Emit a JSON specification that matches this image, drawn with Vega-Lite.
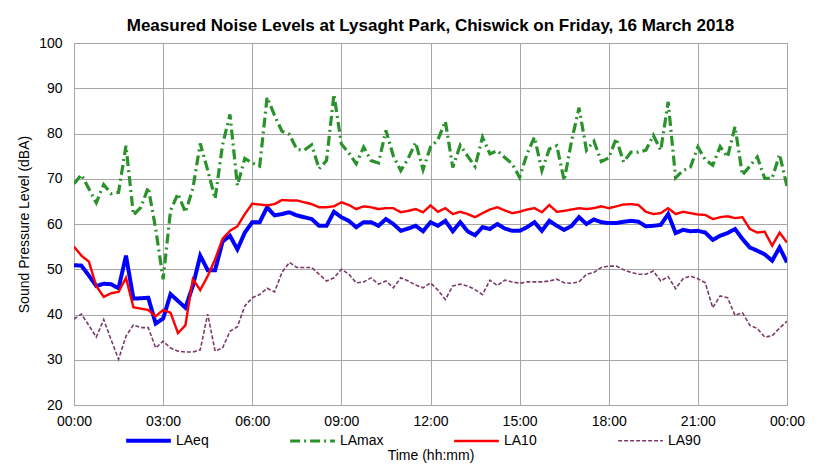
{
  "$schema": "https://vega.github.io/schema/vega-lite/v6.json",
  "width": 713,
  "height": 362,
  "autosize": {"type": "none"},
  "padding": {"left": 74, "top": 43, "right": 48, "bottom": 63},
  "background": "white",
  "config": {
    "font": "Liberation Sans",
    "view": {"stroke": "#a6a6a6", "strokeWidth": 1}
  },
  "title": {
    "text": "Measured Noise Levels at Lysaght Park, Chiswick on Friday, 16 March 2018",
    "fontSize": 17,
    "fontWeight": "bold",
    "color": "#000000",
    "anchor": "middle",
    "offset": 1
  },
  "data": {
    "values": [
      {"h": 0, "LAeq": 50.9, "LAmax": 68.9, "LA10": 55.0, "LA90": 39.0},
      {"h": 0.25, "LAeq": 50.8, "LAmax": 70.9, "LA10": 53.0, "LA90": 40.1},
      {"h": 0.5, "LAeq": 48.6, "LAmax": 67.8, "LA10": 51.7, "LA90": 37.6},
      {"h": 0.75, "LAeq": 46.3, "LAmax": 64.7, "LA10": 46.3, "LA90": 35.0},
      {"h": 1, "LAeq": 46.8, "LAmax": 68.7, "LA10": 43.9, "LA90": 38.9},
      {"h": 1.25, "LAeq": 46.7, "LAmax": 66.7, "LA10": 44.7, "LA90": 34.4},
      {"h": 1.5, "LAeq": 45.8, "LAmax": 67.0, "LA10": 45.0, "LA90": 30.1},
      {"h": 1.75, "LAeq": 53.0, "LAmax": 77.3, "LA10": 48.1, "LA90": 35.2},
      {"h": 2, "LAeq": 43.5, "LAmax": 62.0, "LA10": 41.6, "LA90": 37.7},
      {"h": 2.25, "LAeq": 43.6, "LAmax": 63.7, "LA10": 41.3, "LA90": 37.1},
      {"h": 2.5, "LAeq": 43.7, "LAmax": 68.1, "LA10": 41.0, "LA90": 37.1},
      {"h": 2.75, "LAeq": 38.0, "LAmax": 58.9, "LA10": 39.6, "LA90": 32.6},
      {"h": 3, "LAeq": 39.1, "LAmax": 47.8, "LA10": 41.0, "LA90": 34.1},
      {"h": 3.25, "LAeq": 44.5, "LAmax": 63.0, "LA10": 40.4, "LA90": 32.6},
      {"h": 3.5, "LAeq": 43.0, "LAmax": 66.7, "LA10": 35.9, "LA90": 31.9},
      {"h": 3.75, "LAeq": 41.5, "LAmax": 62.6, "LA10": 37.6, "LA90": 31.7},
      {"h": 4, "LAeq": 46.3, "LAmax": 67.8, "LA10": 47.8, "LA90": 31.7},
      {"h": 4.25, "LAeq": 53.0, "LAmax": 77.8, "LA10": 45.4, "LA90": 32.2},
      {"h": 4.5, "LAeq": 49.8, "LAmax": 71.9, "LA10": 48.5, "LA90": 40.1},
      {"h": 4.75, "LAeq": 49.8, "LAmax": 65.6, "LA10": 52.2, "LA90": 31.9},
      {"h": 5, "LAeq": 56.1, "LAmax": 77.5, "LA10": 56.7, "LA90": 32.6},
      {"h": 5.25, "LAeq": 57.4, "LAmax": 84.2, "LA10": 58.5, "LA90": 36.3},
      {"h": 5.5, "LAeq": 54.4, "LAmax": 68.5, "LA10": 59.5, "LA90": 37.3},
      {"h": 5.75, "LAeq": 58.1, "LAmax": 74.5, "LA10": 62.2, "LA90": 41.9},
      {"h": 6, "LAeq": 60.4, "LAmax": 73.5, "LA10": 64.5, "LA90": 43.7},
      {"h": 6.25, "LAeq": 60.4, "LAmax": 72.8, "LA10": 64.3, "LA90": 44.4},
      {"h": 6.5, "LAeq": 63.7, "LAmax": 88.0, "LA10": 64.1, "LA90": 45.8},
      {"h": 6.75, "LAeq": 61.9, "LAmax": 84.0, "LA10": 64.4, "LA90": 45.0},
      {"h": 7, "LAeq": 62.2, "LAmax": 80.5, "LA10": 65.3, "LA90": 49.3},
      {"h": 7.25, "LAeq": 62.6, "LAmax": 79.8, "LA10": 65.2, "LA90": 51.5},
      {"h": 7.5, "LAeq": 61.9, "LAmax": 76.5, "LA10": 65.2, "LA90": 50.4},
      {"h": 7.75, "LAeq": 61.5, "LAmax": 76.3, "LA10": 64.8, "LA90": 50.4},
      {"h": 8, "LAeq": 61.1, "LAmax": 77.5, "LA10": 64.4, "LA90": 50.4},
      {"h": 8.25, "LAeq": 59.6, "LAmax": 72.2, "LA10": 63.7, "LA90": 48.9},
      {"h": 8.5, "LAeq": 59.6, "LAmax": 74.0, "LA10": 63.7, "LA90": 47.4},
      {"h": 8.75, "LAeq": 62.7, "LAmax": 88.7, "LA10": 63.9, "LA90": 48.1},
      {"h": 9, "LAeq": 61.5, "LAmax": 77.7, "LA10": 64.8, "LA90": 50.0},
      {"h": 9.25, "LAeq": 60.7, "LAmax": 75.7, "LA10": 64.2, "LA90": 48.9},
      {"h": 9.5, "LAeq": 59.3, "LAmax": 73.3, "LA10": 63.3, "LA90": 47.0},
      {"h": 9.75, "LAeq": 60.4, "LAmax": 77.0, "LA10": 63.9, "LA90": 47.2},
      {"h": 10, "LAeq": 60.4, "LAmax": 74.0, "LA10": 63.7, "LA90": 48.1},
      {"h": 10.25, "LAeq": 59.6, "LAmax": 73.5, "LA10": 63.3, "LA90": 46.7},
      {"h": 10.5, "LAeq": 61.1, "LAmax": 80.7, "LA10": 63.5, "LA90": 47.4},
      {"h": 10.75, "LAeq": 60.0, "LAmax": 75.0, "LA10": 63.5, "LA90": 45.9},
      {"h": 11, "LAeq": 58.5, "LAmax": 71.8, "LA10": 62.6, "LA90": 48.1},
      {"h": 11.25, "LAeq": 59.0, "LAmax": 74.5, "LA10": 62.9, "LA90": 47.4},
      {"h": 11.5, "LAeq": 59.6, "LAmax": 78.0, "LA10": 63.3, "LA90": 46.5},
      {"h": 11.75, "LAeq": 58.4, "LAmax": 72.0, "LA10": 62.6, "LA90": 45.9},
      {"h": 12, "LAeq": 60.4, "LAmax": 77.0, "LA10": 64.1, "LA90": 47.0},
      {"h": 12.25, "LAeq": 59.6, "LAmax": 78.6, "LA10": 62.7, "LA90": 45.4},
      {"h": 12.5, "LAeq": 60.7, "LAmax": 82.7, "LA10": 63.5, "LA90": 43.3},
      {"h": 12.75, "LAeq": 58.4, "LAmax": 72.5, "LA10": 62.2, "LA90": 46.3},
      {"h": 13, "LAeq": 60.4, "LAmax": 77.4, "LA10": 62.7, "LA90": 46.7},
      {"h": 13.25, "LAeq": 58.4, "LAmax": 75.0, "LA10": 62.2, "LA90": 46.3},
      {"h": 13.5, "LAeq": 57.5, "LAmax": 72.7, "LA10": 61.5, "LA90": 45.5},
      {"h": 13.75, "LAeq": 59.3, "LAmax": 79.2, "LA10": 62.4, "LA90": 44.4},
      {"h": 14, "LAeq": 58.9, "LAmax": 75.5, "LA10": 63.2, "LA90": 47.6},
      {"h": 14.25, "LAeq": 60.0, "LAmax": 76.2, "LA10": 63.7, "LA90": 46.4},
      {"h": 14.5, "LAeq": 59.0, "LAmax": 74.7, "LA10": 63.0, "LA90": 47.6},
      {"h": 14.75, "LAeq": 58.5, "LAmax": 73.3, "LA10": 62.4, "LA90": 47.2},
      {"h": 15, "LAeq": 58.5, "LAmax": 70.3, "LA10": 62.7, "LA90": 46.9},
      {"h": 15.25, "LAeq": 59.3, "LAmax": 75.5, "LA10": 63.2, "LA90": 47.2},
      {"h": 15.5, "LAeq": 60.4, "LAmax": 79.2, "LA10": 63.5, "LA90": 47.2},
      {"h": 15.75, "LAeq": 58.5, "LAmax": 71.8, "LA10": 62.6, "LA90": 47.2},
      {"h": 16, "LAeq": 60.7, "LAmax": 76.6, "LA10": 64.2, "LA90": 47.4},
      {"h": 16.25, "LAeq": 59.6, "LAmax": 77.3, "LA10": 62.7, "LA90": 47.8},
      {"h": 16.5, "LAeq": 58.7, "LAmax": 69.6, "LA10": 62.9, "LA90": 47.0},
      {"h": 16.75, "LAeq": 59.6, "LAmax": 78.4, "LA10": 63.2, "LA90": 46.9},
      {"h": 17, "LAeq": 61.5, "LAmax": 85.7, "LA10": 63.5, "LA90": 47.2},
      {"h": 17.25, "LAeq": 60.0, "LAmax": 76.3, "LA10": 63.3, "LA90": 48.9},
      {"h": 17.5, "LAeq": 61.0, "LAmax": 78.3, "LA10": 63.5, "LA90": 49.3},
      {"h": 17.75, "LAeq": 60.4, "LAmax": 73.8, "LA10": 63.9, "LA90": 50.4},
      {"h": 18, "LAeq": 60.2, "LAmax": 74.6, "LA10": 63.5, "LA90": 50.7},
      {"h": 18.25, "LAeq": 60.2, "LAmax": 78.9, "LA10": 63.9, "LA90": 50.7},
      {"h": 18.5, "LAeq": 60.5, "LAmax": 73.7, "LA10": 64.3, "LA90": 49.9},
      {"h": 18.75, "LAeq": 60.7, "LAmax": 75.9, "LA10": 64.4, "LA90": 49.3},
      {"h": 19, "LAeq": 60.5, "LAmax": 75.9, "LA10": 64.2, "LA90": 48.9},
      {"h": 19.25, "LAeq": 59.5, "LAmax": 76.3, "LA10": 62.7, "LA90": 48.9},
      {"h": 19.5, "LAeq": 59.6, "LAmax": 79.6, "LA10": 62.2, "LA90": 49.6},
      {"h": 19.75, "LAeq": 59.8, "LAmax": 76.3, "LA10": 62.4, "LA90": 47.4},
      {"h": 20, "LAeq": 62.2, "LAmax": 87.0, "LA10": 63.5, "LA90": 48.4},
      {"h": 20.25, "LAeq": 58.0, "LAmax": 70.2, "LA10": 62.2, "LA90": 45.7},
      {"h": 20.5, "LAeq": 58.7, "LAmax": 71.8, "LA10": 62.7, "LA90": 47.9},
      {"h": 20.75, "LAeq": 58.4, "LAmax": 72.6, "LA10": 62.4, "LA90": 48.5},
      {"h": 21, "LAeq": 58.5, "LAmax": 77.0, "LA10": 62.1, "LA90": 47.9},
      {"h": 21.25, "LAeq": 58.1, "LAmax": 74.2, "LA10": 62.0, "LA90": 47.0},
      {"h": 21.5, "LAeq": 56.5, "LAmax": 73.0, "LA10": 61.1, "LA90": 41.5},
      {"h": 21.75, "LAeq": 57.4, "LAmax": 77.1, "LA10": 61.5, "LA90": 44.1},
      {"h": 22, "LAeq": 58.0, "LAmax": 74.8, "LA10": 61.7, "LA90": 43.7},
      {"h": 22.25, "LAeq": 58.9, "LAmax": 81.5, "LA10": 61.3, "LA90": 39.8},
      {"h": 22.5, "LAeq": 56.7, "LAmax": 70.8, "LA10": 61.5, "LA90": 40.4},
      {"h": 22.75, "LAeq": 54.8, "LAmax": 72.8, "LA10": 58.9, "LA90": 37.6},
      {"h": 23, "LAeq": 54.1, "LAmax": 74.8, "LA10": 58.1, "LA90": 36.9},
      {"h": 23.25, "LAeq": 53.3, "LAmax": 70.1, "LA10": 58.3, "LA90": 35.0},
      {"h": 23.5, "LAeq": 51.9, "LAmax": 70.1, "LA10": 55.2, "LA90": 35.3},
      {"h": 23.75, "LAeq": 54.8, "LAmax": 75.4, "LA10": 58.1, "LA90": 37.0},
      {"h": 24, "LAeq": 51.5, "LAmax": 68.3, "LA10": 55.9, "LA90": 38.5}
    ]
  },
  "transform": [
    {"fold": ["LAeq", "LAmax", "LA10", "LA90"], "as": ["series", "level"]}
  ],
  "mark": {"type": "line", "strokeJoin": "miter", "clip": true},
  "encoding": {
    "x": {
      "field": "h",
      "type": "quantitative",
      "scale": {"domain": [0, 24], "nice": false, "zero": false},
      "axis": {
        "values": [0, 3, 6, 9, 12, 15, 18, 21, 24],
        "labelExpr": "(datum.value % 24 < 10 ? '0' : '') + (datum.value % 24) + ':00'",
        "title": "Time (hh:mm)",
        "titleFontSize": 14,
        "titleFontWeight": "normal",
        "titleColor": "#000000",
        "titlePadding": 20,
        "labelFontSize": 14,
        "labelColor": "#000000",
        "labelPadding": 9,
        "ticks": false,
        "domain": false,
        "grid": true,
        "gridColor": "#a6a6a6",
        "gridWidth": 1,
        "labelFlush": false
      }
    },
    "y": {
      "field": "level",
      "type": "quantitative",
      "scale": {"domain": [20, 100], "nice": false, "zero": false},
      "axis": {
        "values": [20, 30, 40, 50, 60, 70, 80, 90, 100],
        "title": "Sound Pressure Level (dBA)",
        "titleFontSize": 14,
        "titleFontWeight": "normal",
        "titleColor": "#000000",
        "titlePadding": 7,
        "labelFontSize": 14,
        "labelColor": "#000000",
        "labelPadding": 12,
        "ticks": false,
        "domain": false,
        "grid": true,
        "gridColor": "#a6a6a6",
        "gridWidth": 1
      }
    },
    "color": {
      "field": "series",
      "type": "nominal",
      "scale": {
        "domain": ["LAeq", "LAmax", "LA10", "LA90"],
        "range": ["#0000ff", "#2a922a", "#ff0000", "#7a3a6a"]
      },
      "sort": ["LAeq", "LAmax", "LA10", "LA90"],
      "legend": {
        "title": null,
        "orient": "none",
        "legendX": 50,
        "legendY": 373,
        "direction": "horizontal",
        "columns": 4,
        "gridAlign": "all",
        "columnPadding": 63,
        "symbolType": "stroke",
        "symbolSize": 2000,
        "labelFontSize": 14,
        "labelColor": "#000000",
        "labelOffset": 3
      }
    },
    "strokeDash": {
      "field": "series",
      "type": "nominal",
      "scale": {
        "domain": ["LAeq", "LAmax", "LA10", "LA90"],
        "range": [[1, 0], [10, 4, 2, 4], [1, 0], [4, 2]]
      },
      "sort": ["LAeq", "LAmax", "LA10", "LA90"]
    },
    "strokeWidth": {
      "field": "series",
      "type": "nominal",
      "scale": {
        "domain": ["LAeq", "LAmax", "LA10", "LA90"],
        "range": [4, 1.6, 1.6, 1.8]
      },
      "legend": null
    }
  }
}
